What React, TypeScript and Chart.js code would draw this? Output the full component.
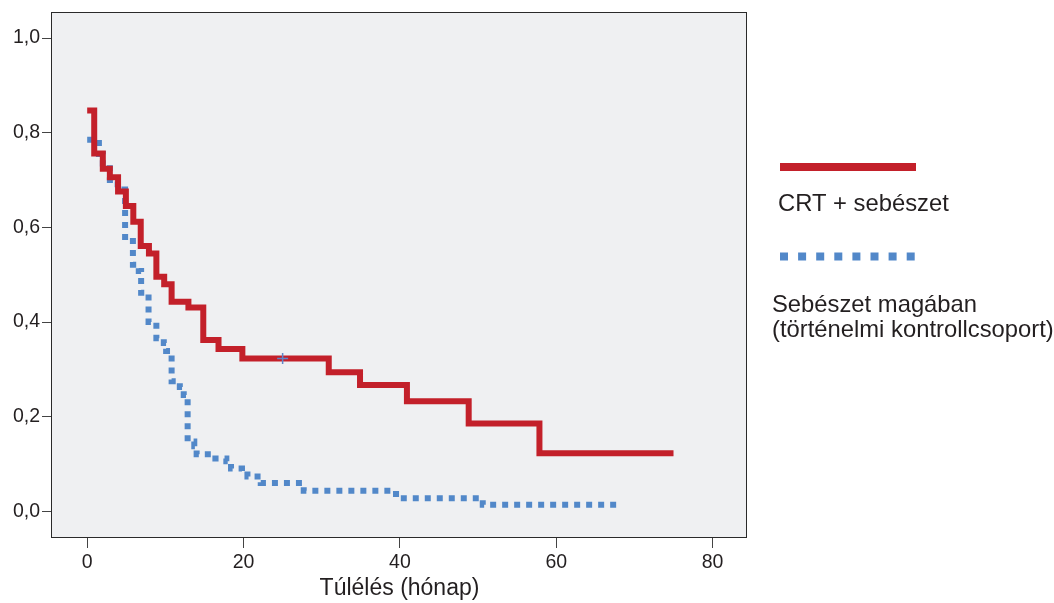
import React, { useEffect, useRef } from "react";
import { Chart, registerables } from "chart.js";

Chart.register(...registerables);

// ---- Data ----
const xTicks = [0, 20, 40, 60, 80];
const yTicks = [0, 0.2, 0.4, 0.6, 0.8, 1.0];

const redTime = [0, 0.9, 2.0, 2.9, 3.95, 4.95, 5.9, 6.85, 7.9, 8.85, 9.85, 10.8, 12.95, 14.85, 16.8, 19.85, 30.9, 34.9, 40.9, 48.8, 57.85, 75];
const redSurv = [0.847, 0.756, 0.724, 0.706, 0.676, 0.645, 0.612, 0.561, 0.545, 0.496, 0.48, 0.443, 0.431, 0.362, 0.343, 0.323, 0.294, 0.267, 0.233, 0.186, 0.123, 0.123];

const blueTime = [0, 1.5, 2.0, 2.9, 3.9, 4.85, 5.85, 6.6, 6.9, 7.85, 8.85, 9.8, 10.1, 10.8, 11.85, 12.35, 12.85, 13.7, 14.0, 16.4, 17.8, 18.4, 19.8, 20.5, 22.2, 27.7, 39.5, 40.5, 50.6, 68];
const blueSurv = [0.785, 0.755, 0.735, 0.7, 0.68, 0.58, 0.521, 0.508, 0.462, 0.4, 0.366, 0.356, 0.339, 0.275, 0.263, 0.246, 0.148, 0.138, 0.121, 0.112, 0.106, 0.091, 0.085, 0.074, 0.06, 0.044, 0.037, 0.028, 0.014, 0.014];

const censorTime = [25];
const censorSurv = [0.323];

const seriesNames = ["CRT + sebészet", "Sebészet magában", "(történelmi kontrollcsoport)"];
const xTitle = "Túlélés (hónap)";

// ---- Styles ----
const FONT = "'Liberation Sans', Arial, Helvetica, sans-serif";
const RED = "#c3202a";
const BLUE = "#5288c9";
const TEXT = "#231f20";
const PLOT_BG = "#eff0f2";

const toPoints = (xs: number[], ys: number[]) => xs.map((x, i) => ({ x, y: ys[i] }));

const plotBgPlugin = {
  id: "plotBg",
  beforeDraw(chart: any) {
    const { ctx, chartArea } = chart;
    ctx.save();
    ctx.fillStyle = PLOT_BG;
    ctx.fillRect(chartArea.left, chartArea.top, chartArea.right - chartArea.left, chartArea.bottom - chartArea.top);
    ctx.restore();
  },
  afterDatasetsDraw(chart: any) {
    const { ctx, chartArea } = chart;
    ctx.save();
    ctx.strokeStyle = "#2a2a2a";
    ctx.lineWidth = 1;
    ctx.strokeRect(
      Math.round(chartArea.left) - 0.5,
      Math.round(chartArea.top) + 0.5,
      Math.round(chartArea.right - chartArea.left),
      Math.round(chartArea.bottom - chartArea.top) - 1
    );
    ctx.restore();
  },
};

const legendPlugin = {
  id: "customLegend",
  afterDraw(chart: any) {
    const { ctx } = chart;
    ctx.save();
    // red line sample
    ctx.fillStyle = RED;
    ctx.fillRect(780, 163, 136, 8);
    // blue dotted sample
    ctx.fillStyle = BLUE;
    for (let i = 0; i < 8; i++) {
      ctx.fillRect(780 + i * 18.1, 252.5, 8, 8);
    }
    ctx.fillStyle = TEXT;
    ctx.font = `23.8px ${FONT}`;
    ctx.textBaseline = "alphabetic";
    ctx.textAlign = "left";
    ctx.fillText(seriesNames[0], 778, 211);
    ctx.fillText(seriesNames[1], 772, 311.5);
    ctx.fillText(seriesNames[2], 772, 336.5);
    ctx.restore();
  },
};

export default function App() {
  const ref = useRef<HTMLCanvasElement>(null);

  useEffect(() => {
    if (!ref.current) return;
    const chart = new Chart(ref.current, {
      type: "line",
      data: {
        datasets: [
          {
            type: "scatter",
            label: "censored",
            data: toPoints(censorTime, censorSurv),
            pointStyle: "cross",
            pointRadius: 5.5,
            pointBorderWidth: 1.5,
            borderColor: "#5f84c9",
            backgroundColor: "#5f84c9",
            showLine: false,
            order: 0,
          } as any,
          {
            label: seriesNames[0],
            data: toPoints(redTime, redSurv),
            borderColor: RED,
            borderWidth: 6,
            stepped: "before",
            pointRadius: 0,
            fill: false,
            borderCapStyle: "butt",
            borderJoinStyle: "miter",
            order: 1,
          },
          {
            label: seriesNames[1] + " " + seriesNames[2],
            data: toPoints(blueTime, blueSurv),
            borderColor: BLUE,
            borderWidth: 6,
            borderDash: [6, 6],
            stepped: "before",
            pointRadius: 0,
            fill: false,
            borderCapStyle: "butt",
            borderJoinStyle: "miter",
            order: 2,
          },
        ],
      },
      options: {
        responsive: false,
        animation: false,
        events: [],
        layout: { padding: { top: 12, right: 307, left: 0, bottom: 0 } },
        plugins: {
          legend: { display: false },
          tooltip: { enabled: false },
        },
        scales: {
          x: {
            type: "linear",
            min: -4.5,
            max: 84.4,
            afterBuildTicks: (s: any) => {
              s.ticks = xTicks.map((v) => ({ value: v }));
            },
            afterFit: (s: any) => {
              s.height = 65;
              s.paddingLeft = 0;
              s.paddingRight = 0;
            },
            border: { display: false },
            grid: { drawOnChartArea: false, drawTicks: true, tickLength: 10, color: "#444", lineWidth: 1 },
            ticks: {
              font: { family: FONT, size: 19.5 },
              color: TEXT,
              padding: 3,
              maxRotation: 0,
              autoSkip: false,
              callback: (v: any) => String(v),
            },
            title: {
              display: true,
              text: xTitle,
              font: { family: FONT, size: 23 },
              color: TEXT,
              padding: { top: 0, bottom: 1 },
            },
          },
          y: {
            type: "linear",
            min: -0.056,
            max: 1.055,
            afterBuildTicks: (s: any) => {
              s.ticks = yTicks.map((v) => ({ value: v }));
            },
            afterFit: (s: any) => {
              s.width = 52;
              s.paddingTop = 0;
              s.paddingBottom = 0;
            },
            border: { display: false },
            grid: { drawOnChartArea: false, drawTicks: true, tickLength: 10, color: "#444", lineWidth: 1 },
            ticks: {
              font: { family: FONT, size: 19.5 },
              color: TEXT,
              padding: 2,
              autoSkip: false,
              callback: (v: any) => Number(v).toFixed(1).replace(".", ","),
            },
          },
        },
      },
      plugins: [plotBgPlugin, legendPlugin],
    });
    return () => chart.destroy();
  }, []);

  return (
    <div style={{ position: "absolute", left: 0, top: 0, width: 1054, height: 603, background: "#fff" }}>
      <canvas ref={ref} width={1054} height={603} style={{ display: "block" }} />
    </div>
  );
}
